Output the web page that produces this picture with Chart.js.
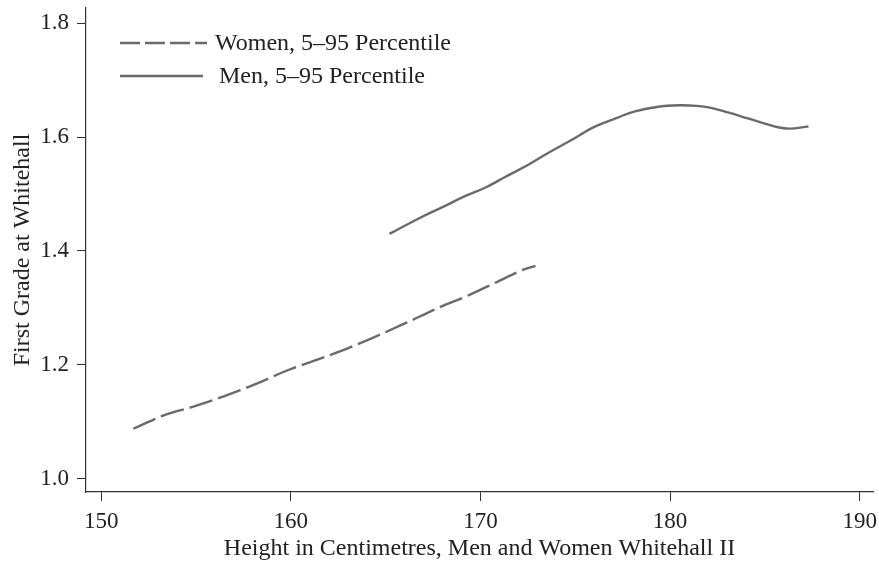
<!DOCTYPE html>
<html>
<head>
<meta charset="utf-8">
<script src="https://cdn.jsdelivr.net/npm/chart.js@4.4.1/dist/chart.umd.min.js"></script>
<style>
  body { margin: 0; background: #fff; }
  #wrap { width: 879px; height: 569px; }
</style>
</head>
<body>
<div id="wrap"><canvas id="chart"></canvas></div>
<script>
// values
const womenHeight = [151.7, 153.3, 154.9, 156.5, 157.3, 158.2, 159.8, 161.4, 163.0, 164.5, 166.1, 167.7, 169.3, 170.9, 172.1, 172.9];
const womenGrade = [1.088, 1.111, 1.127, 1.145, 1.155, 1.167, 1.190, 1.209, 1.229, 1.250, 1.274, 1.299, 1.321, 1.346, 1.365, 1.374];

const menHeight = [165.2, 166.8, 168.0, 169.1, 170.3, 171.3, 172.5, 173.5, 174.8, 176.0, 177.2, 178.1, 179.3, 180.5, 181.4, 182.1, 183.1, 184.1, 185.5, 186.3, 187.3];
const menGrade = [1.430, 1.458, 1.477, 1.495, 1.512, 1.530, 1.551, 1.571, 1.595, 1.618, 1.634, 1.645, 1.653, 1.656, 1.655, 1.652, 1.643, 1.633, 1.619, 1.615, 1.619];

const seriesLabels = ["Women, 5\u201395 Percentile", "Men, 5\u201395 Percentile"];
const xTicks = [150, 160, 170, 180, 190];
const yTicks = [1.0, 1.2, 1.4, 1.6, 1.8];

const serif = "'Liberation Serif', 'Times New Roman', serif";
const lineColor = "#6a6a6a";
const axisColor = "#333";

function toPoints(xs, ys) {
  return xs.map((x, i) => ({ x: x, y: ys[i] }));
}

// legend drawn by hand: line stub + label, top left of the plot
const manualLegend = {
  id: 'manualLegend',
  afterDraw(chart) {
    const ctx = chart.ctx;
    const rows = [43, 76];
    ctx.save();
    chart.data.datasets.forEach((ds, i) => {
      const y = rows[i];
      ctx.strokeStyle = ds.borderColor;
      ctx.lineWidth = ds.borderWidth;
      ctx.setLineDash(i === 0 ? [20, 5] : []);
      ctx.beginPath();
      ctx.moveTo(120, y);
      ctx.lineTo(i === 0 ? 207 : 203, y);
      ctx.stroke();
      ctx.setLineDash([]);
      ctx.fillStyle = "#222";
      ctx.font = "24px " + serif;
      ctx.textBaseline = "middle";
      ctx.fillText(ds.label, i === 0 ? 215 : 219, y + 1);
    });
    ctx.restore();
  }
};

const config = {
  type: 'scatter',
  data: {
    datasets: [
      {
        label: seriesLabels[0],
        data: toPoints(womenHeight, womenGrade),
        showLine: true,
        borderColor: lineColor,
        borderWidth: 2.4,
        borderDash: [24, 6],
        pointRadius: 0,
        cubicInterpolationMode: 'monotone'
      },
      {
        label: seriesLabels[1],
        data: toPoints(menHeight, menGrade),
        showLine: true,
        borderColor: lineColor,
        borderWidth: 2.4,
        pointRadius: 0,
        tension: 0.4
      }
    ]
  },
  options: {
    responsive: true,
    maintainAspectRatio: false,
    animation: false,
    layout: { padding: { top: 8, right: 6, left: 0, bottom: 0 } },
    plugins: {
      legend: { display: false },
      tooltip: { enabled: false }
    },
    scales: {
      x: {
        type: 'linear',
        min: 149.2,
        max: 190.7,
        afterBuildTicks: (scale) => { scale.ticks = xTicks.map(v => ({ value: v })); },
        afterFit: (scale) => {
          scale.height = 77;
          scale.paddingLeft = 0;
          scale.paddingRight = 0;
        },
        grid: { display: true, drawOnChartArea: false, drawTicks: true, tickLength: 9, color: axisColor },
        border: { display: true, color: axisColor, width: 1.2 },
        ticks: { color: "#222", padding: 7, font: { family: serif, size: 23 } },
        title: {
          display: true,
          text: "Height in Centimetres, Men and Women Whitehall II",
          color: "#222",
          font: { family: serif, size: 24 },
          padding: { top: 0, bottom: 6 }
        }
      },
      y: {
        type: 'linear',
        min: 0.9765,
        max: 1.827,
        afterBuildTicks: (scale) => { scale.ticks = yTicks.map(v => ({ value: v })); },
        afterFit: (scale) => {
          scale.width = 86;
          scale.paddingTop = 0;
          scale.paddingBottom = 0;
        },
        grid: { display: true, drawOnChartArea: false, drawTicks: true, tickLength: 9, color: axisColor },
        border: { display: true, color: axisColor, width: 1.2 },
        ticks: {
          color: "#222",
          padding: 8,
          font: { family: serif, size: 23 },
          callback: (v) => v.toFixed(1)
        },
        title: {
          display: true,
          text: "First Grade at Whitehall",
          color: "#222",
          font: { family: serif, size: 24 },
          padding: { top: 8, bottom: 0 }
        }
      }
    }
  },
  plugins: [manualLegend]
};

new Chart(document.getElementById('chart').getContext('2d'), config);
</script>
</body>
</html>
